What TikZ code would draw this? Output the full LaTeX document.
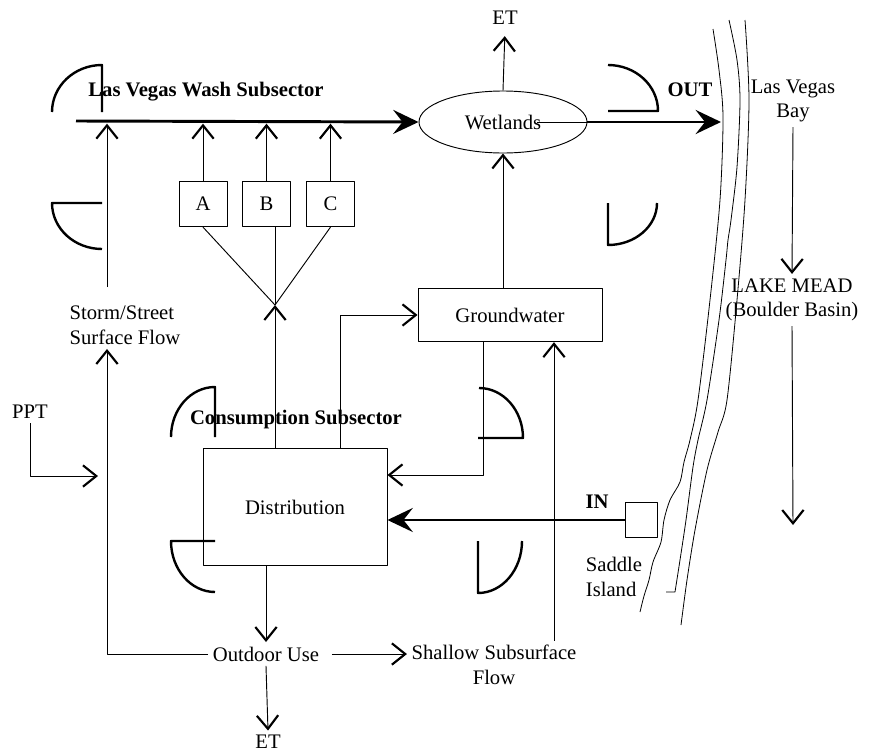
\documentclass[tikz,border=0pt]{standalone}
\usepackage{fontspec}
\setmainfont{Liberation Serif}
\usetikzlibrary{arrows.meta,shapes.geometric}

\begin{document}
\begin{tikzpicture}[x=0.75pt,y=-0.75pt,line join=round,
  font=\fontsize{15.5}{18.5}\selectfont,
  flow/.style={line width=0.7pt,-{Straight Barb[length=10pt,width=16pt,line width=1.6pt]}},
  mainflow/.style={line width=2.2pt,-{Stealth[length=19pt,width=18pt,inset=7pt]}},
  gate/.style={line width=1.8pt},
  box/.style={draw,line width=0.7pt,inner sep=0pt},
  lbl/.style={font=\fontsize{15.5}{18.5}\selectfont\bfseries}]
  \useasboundingbox (0,0) rectangle (878,753);
  % coordinates
  \coordinate (washin) at (76,121);
  \coordinate (shore) at (721,122);
  \coordinate (wetmid) at (537,122);
  \coordinate (junc) at (275,305);
  \coordinate (stormtop) at (107,287);
  \coordinate (pptin) at (98,476);
  \coordinate (lakeout) at (793,525);
  % nodes
  \node[draw,ellipse,line width=0.7pt,minimum width=126pt,minimum height=46.5pt,inner sep=0pt] (wet) at (503,122) {Wetlands};
  \node (etTop) at (505,18) {ET};
  \node[box,minimum width=138pt,minimum height=40pt] (gw) at (510,315) {Groundwater};
  \node[box,minimum width=138pt,minimum height=88pt] (dist) at (295,507) {Distribution};
  \node[box,minimum width=36pt,minimum height=34pt] (boxA) at (203,204) {A};
  \node[box,minimum width=36pt,minimum height=34pt] (boxB) at (266.5,204) {B};
  \node[box,minimum width=36pt,minimum height=34pt] (boxC) at (330.5,204) {C};
  \node[align=left] (storm) at (125,325) {Storm/Street\\Surface Flow};
  \node (ppt) at (30,412) {PPT};
  \node (outdoor) at (266,654) {Outdoor Use};
  \node (etBot) at (268,742) {ET};
  \node[align=center] (shallow) at (494,665) {Shallow Subsurface\\Flow};
  \node[box,minimum width=24pt,minimum height=26pt] (saddle) at (641,520) {};
  \node[align=left] (saddleTxt) at (614,577) {Saddle\\Island};
  \node[align=center] (bay) at (793,101) {Las Vegas\\Bay};
  \node[align=center] (mead) at (792,300) {LAKE MEAD\\(Boulder Basin)};
  \node[lbl] (lvws) at (206,92) {Las Vegas Wash Subsector};
  \node[lbl] (cons) at (296,420) {Consumption Subsector};
  \node[lbl] (out) at (690,90) {OUT};
  \node[lbl] (in) at (597,502) {IN};
  % main channel
  \draw[mainflow] (washin) -- (wet.west);
  \draw[line width=0.7pt] (wetmid) -- (wet.east);
  \draw[mainflow] (wet.east) -- (shore);
  \draw[flow,shorten >=5pt] (wet.north) -- (etTop.south);
  \draw[flow] (wet.south |- gw.north) -- (wet.south);
  \draw[flow,shorten >=2pt] (boxA.north) -- (boxA.north |- washin);
  \draw[flow,shorten >=2pt] (boxB.north) -- (boxB.north |- washin);
  \draw[flow,shorten >=2pt] (boxC.north) -- (boxC.north |- washin);
  \draw[flow,shorten >=2pt] (stormtop) -- (stormtop |- washin);
  % consumption
  \draw[line width=0.7pt] (junc) -- (boxA.south);
  \draw[line width=0.7pt] (junc) -- (junc |- boxB.south);
  \draw[line width=0.7pt] (junc) -- (boxC.south);
  \draw[flow] (dist.north -| junc) -- (junc);
  \draw[flow] ([xshift=33.75pt]dist.north) |- (gw.west);
  \draw[flow] ([xshift=-20.25pt]gw.south) |- ([yshift=24pt]dist.east);
  \draw[mainflow] (saddle.west) -- (dist.east |- saddle.west);
  \draw[flow] (dist.south -| outdoor.north) -- (outdoor.north);
  \draw[flow] (outdoor.south) -- (etBot.north);
  \draw[flow,shorten <=6pt] (outdoor.east) -- (outdoor.east -| shallow.west);
  \draw[flow] (outdoor.west) -| (storm.south -| stormtop);
  \draw[flow] (ppt.south) |- (pptin);
  \coordinate (gwin) at ([xshift=33pt]gw.south);
  \draw[flow] (shallow.north -| gwin) -- (gwin);
  % lake
  \draw[flow] (bay.south) -- (mead.north);
  \draw[flow] (mead.south) -- (lakeout);
  % gates
  \draw[gate] (52,112) arc[start angle=180,end angle=270,x radius=50,y radius=47] -- (102,112);
  \draw[gate] (102,203) -- (52,203) arc[start angle=180,end angle=90,x radius=50,y radius=46];
  \draw[gate] (171,437) arc[start angle=180,end angle=270,x radius=44,y radius=50] -- (215,437);
  \draw[gate] (215,541) -- (171,541) arc[start angle=180,end angle=90,x radius=44,y radius=51];
  \draw[gate] (479,388) arc[start angle=270,end angle=360,x radius=44,y radius=50] -- (478,438);
  \draw[gate] (478,541) -- (478,593) arc[start angle=90,end angle=0,x radius=44,y radius=52];
  \draw[gate] (608,65) arc[start angle=270,end angle=360,x radius=50,y radius=46] -- (608,111);
  \draw[gate] (608,203) -- (608,245) arc[start angle=90,end angle=0,x radius=49,y radius=42];
  % shoreline
  \draw[line width=0.6pt] plot[smooth] coordinates {(713,29) (719,70) (723,117) (720,200) (710,300) (698,400) (690,440) (684,462) (680,482) (670,500) (664,520) (661,542) (653,562) (649,580) (644,596) (640,612)};
  \draw[line width=0.6pt] plot[smooth] coordinates {(729,20) (737,60) (740,100) (737,167) (731,220) (728,240) (726,260) (719,320) (707,400) (698,440) (693,467) (686,520) (680,560) (675,592)} -- (666,592);
  \draw[line width=0.6pt] plot[smooth] coordinates {(745,20) (749,100) (745,200) (737,300) (727,400) (718,432) (707,470) (695,530) (687,580) (681,625)};
\end{tikzpicture}
\end{document}
